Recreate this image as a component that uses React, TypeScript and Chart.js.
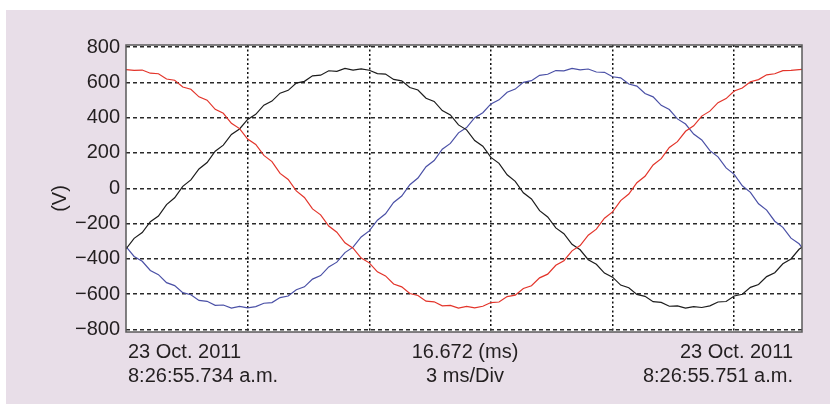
import React, { useEffect, useRef } from "react";
import { Chart, registerables } from "chart.js";

Chart.register(...registerables);

// Sample times (ms) across the 16.672 ms window
const SAMPLE_TIMES_MS = [
  0, 0.2, 0.4, 0.6, 0.8, 1.0, 1.2, 1.4, 1.6, 1.8, 2.0, 2.2, 2.4, 2.6, 2.8, 3.0, 3.2, 3.4, 3.6, 3.8,
  4.0, 4.2, 4.4, 4.6, 4.8, 5.0, 5.2, 5.4, 5.6, 5.8, 6.0, 6.2, 6.4, 6.6, 6.8, 7.0, 7.2, 7.4, 7.6, 7.8,
  8.0, 8.2, 8.4, 8.6, 8.8, 9.0, 9.2, 9.4, 9.6, 9.8, 10.0, 10.2, 10.4, 10.6, 10.8, 11.0, 11.2, 11.4, 11.6, 11.8,
  12.0, 12.2, 12.4, 12.6, 12.8, 13.0, 13.2, 13.4, 13.6, 13.8, 14.0, 14.2, 14.4, 14.6, 14.8, 15.0, 15.2, 15.4, 15.6, 15.8,
  16.0, 16.2, 16.4, 16.6, 16.8,
];

// Phase voltages (V)
const RED_PHASE_V = [
  672, 668, 670, 652, 649, 619, 612, 574, 561, 518, 499, 447, 425, 368, 338, 279, 248, 186, 151, 84,
  50, -15, -52, -117, -151, -214, -249, -309, -340, -396, -423, -474, -497, -543, -559, -597, -608, -640, -644, -667,
  -664, -679, -670, -678, -669, -648, -645, -614, -606, -568, -553, -508, -487, -437, -411, -355, -325, -266, -232, -170,
  -134, -70, -33, 31, 68, 132, 168, 231, 264, 323, 354, 409, 437, 485, 508, 551, 568, 604, 616, 643,
  649, 667, 668, 672, 676,
];

const BLACK_PHASE_V = [
  -344, -284, -251, -190, -158, -93, -54, 11, 47, 109, 146, 210, 244, 305, 336, 390, 419, 471, 494, 539,
  555, 596, 606, 637, 641, 666, 663, 679, 670, 677, 669, 650, 647, 617, 609, 571, 557, 510, 492, 440,
  416, 359, 331, 270, 238, 175, 141, 76, 39, -26, -61, -127, -163, -225, -258, -318, -349, -405, -431, -481,
  -504, -549, -564, -602, -613, -643, -647, -669, -667, -680, -671, -676, -667, -645, -642, -611, -601, -562, -546, -501,
  -479, -428, -401, -346, -314,
];

const BLUE_PHASE_V = [
  -331, -387, -414, -466, -490, -535, -552, -592, -604, -636, -641, -664, -662, -679, -670, -678, -671, -652, -648, -620,
  -611, -575, -559, -515, -495, -446, -419, -365, -334, -276, -242, -181, -145, -81, -44, 20, 58, 122, 157, 221,
  254, 314, 344, 400, 428, 478, 501, 544, 562, 600, 610, 640, 646, 667, 665, 679, 671, 676, 659, 657,
  632, 626, 591, 579, 537, 518, 470, 446, 393, 364, 307, 274, 213, 178, 115, 79, 14, -23, -88, -124,
  -187, -222, -283, -315, -372,
];

const Y_GRID_VALUES = [-800, -700, -600, -500, -400, -300, -200, -100, 0, 100, 200, 300, 400, 500, 600, 700, 800];
const Y_LABEL_VALUES = [-800, -600, -400, -200, 0, 200, 400, 600, 800];
const X_DIVISIONS_MS = [3, 6, 9, 12, 15];
const X_WINDOW_MS = 16.672;

const Y_TITLE = "(V)";
const START_LABEL = ["23 Oct. 2011", "8:26:55.734 a.m."];
const MIDDLE_LABEL = ["16.672 (ms)", "3 ms/Div"];
const END_LABEL = ["23 Oct. 2011", "8:26:55.751 a.m."];

const FONT_FAMILY = "'Liberation Sans', Arial, Helvetica, sans-serif";
const TEXT_COLOR = "#231f20";
const FONT_SIZE = 20;

function toPoints(values: number[]) {
  return values.map((v, i) => ({ x: SAMPLE_TIMES_MS[i], y: v }));
}

const plotBgPlugin = {
  id: "plotBg",
  beforeDraw(chart: any) {
    const { ctx, chartArea } = chart;
    ctx.save();
    ctx.fillStyle = "#ffffff";
    ctx.fillRect(chartArea.left, chartArea.top, chartArea.right - chartArea.left, chartArea.bottom - chartArea.top);
    ctx.restore();
  },
};

const textPlugin = {
  id: "scopeText",
  afterDatasetsDraw(chart: any) {
    const { ctx, chartArea } = chart;
    ctx.save();
    ctx.strokeStyle = "#5a5a5a";
    ctx.lineWidth = 1.5;
    ctx.setLineDash([]);
    ctx.strokeRect(chartArea.left, chartArea.top, chartArea.right - chartArea.left, chartArea.bottom - chartArea.top);

    ctx.fillStyle = TEXT_COLOR;
    ctx.font = `${FONT_SIZE}px ${FONT_FAMILY}`;
    ctx.textBaseline = "middle";

    ctx.save();
    ctx.translate(chartArea.left - 66, (chartArea.top + chartArea.bottom) / 2 + 10);
    ctx.rotate(-Math.PI / 2);
    ctx.textAlign = "center";
    ctx.fillText(Y_TITLE, 0, 0);
    ctx.restore();

    const y1 = chartArea.bottom + 20;
    const y2 = chartArea.bottom + 44;
    ctx.textAlign = "left";
    ctx.fillText(START_LABEL[0], chartArea.left + 2, y1);
    ctx.fillText(START_LABEL[1], chartArea.left + 2, y2);
    ctx.textAlign = "center";
    const mid = (chartArea.left + chartArea.right) / 2 + 1;
    ctx.fillText(MIDDLE_LABEL[0], mid, y1);
    ctx.fillText(MIDDLE_LABEL[1], mid, y2);
    ctx.textAlign = "right";
    ctx.fillText(END_LABEL[0], chartArea.right - 9, y1);
    ctx.fillText(END_LABEL[1], chartArea.right - 9, y2);
    ctx.restore();
  },
};

export default function App() {
  const canvasRef = useRef<HTMLCanvasElement | null>(null);

  useEffect(() => {
    document.body.style.margin = "0";
    const canvas = canvasRef.current;
    if (!canvas) return;
    const lineDs = (label: string, values: number[], color: string) => ({
      label,
      data: toPoints(values),
      borderColor: color,
      backgroundColor: color,
      borderWidth: 1.2,
      pointRadius: 0,
      tension: 0,
    });
    const chart = new Chart(canvas, {
      type: "line",
      data: {
        datasets: [
          lineDs("Phase A", RED_PHASE_V, "#e3342a"),
          lineDs("Phase B", BLACK_PHASE_V, "#1c1c1c"),
          lineDs("Phase C", BLUE_PHASE_V, "#4a50a6"),
        ],
      },
      options: {
        responsive: false,
        animation: false,
        events: [],
        layout: { padding: { left: 0, right: 28, top: 35, bottom: 72 } },
        plugins: { legend: { display: false }, tooltip: { enabled: false }, title: { display: false } },
        scales: {
          x: {
            type: "linear",
            min: 0,
            max: X_WINDOW_MS,
            afterBuildTicks: (scale: any) => {
              scale.ticks = X_DIVISIONS_MS.map((v) => ({ value: v }));
            },
            afterFit: (scale: any) => {
              scale.height = 0;
            },
            ticks: { display: false },
            grid: { color: "#111111", lineWidth: 1.5, drawTicks: false },
            border: { display: false, dash: [2, 2.5] },
          },
          y: {
            type: "linear",
            min: -815,
            max: 812,
            afterBuildTicks: (scale: any) => {
              scale.ticks = Y_GRID_VALUES.map((v) => ({ value: v }));
            },
            afterFit: (scale: any) => {
              scale.width = 120;
            },
            ticks: {
              padding: 6,
              color: TEXT_COLOR,
              font: { size: FONT_SIZE, family: FONT_FAMILY },
              callback: (v: any) => (Y_LABEL_VALUES.includes(Number(v)) ? (Number(v) < 0 ? "\u2212" + Math.abs(Number(v)) : String(v)) : ""),
            },
            grid: { color: "#2a2a2a", lineWidth: 1.4, drawTicks: false },
            border: { display: false, dash: [4, 3] },
          },
        },
      },
      plugins: [plotBgPlugin, textPlugin],
    } as any);
    return () => chart.destroy();
  }, []);

  return (
    <div style={{ position: "relative", width: 830, height: 404, background: "#ffffff", overflow: "hidden" }}>
      <div style={{ position: "absolute", left: 6, top: 10, width: 824, height: 394, background: "#e8dee8" }}>
        <canvas ref={canvasRef} width={824} height={394} style={{ display: "block" }} />
      </div>
    </div>
  );
}
